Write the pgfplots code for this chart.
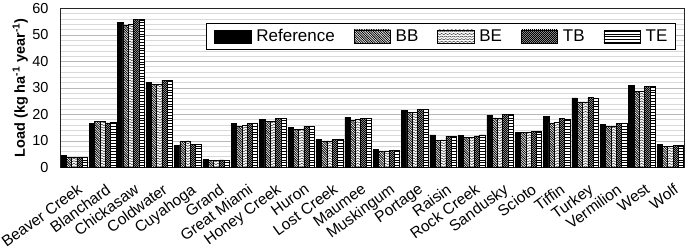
\documentclass[border=0pt]{standalone}
\usepackage{pgfplots}
\pgfplotsset{compat=1.18}
\usepackage{pgfplotstable}
\usetikzlibrary{patterns}
\usepackage{fontspec}
\setmainfont{Liberation Sans}

\pgfdeclarepatternformonly{bbpat}{\pgfqpoint{-1pt}{-1pt}}{\pgfqpoint{4pt}{4pt}}{\pgfqpoint{2.4pt}{2.4pt}}{
  \pgfsetlinewidth{0.75pt}
  \pgfpathmoveto{\pgfqpoint{0pt}{2.4pt}}
  \pgfpathlineto{\pgfqpoint{2.5pt}{-0.1pt}}
  \pgfusepath{stroke}}
\pgfdeclarepatternformonly{bepat}{\pgfqpoint{-1pt}{-1pt}}{\pgfqpoint{5pt}{4pt}}{\pgfqpoint{4pt}{2.6pt}}{
  \pgfsetlinewidth{0.5pt}
  \pgfpathmoveto{\pgfqpoint{0pt}{0.3pt}}
  \pgfpathlineto{\pgfqpoint{2pt}{1.5pt}}
  \pgfpathlineto{\pgfqpoint{4pt}{0.3pt}}
  \pgfusepath{stroke}}
\pgfdeclarepatternformonly{tbpat}{\pgfqpoint{0pt}{0pt}}{\pgfqpoint{2pt}{2pt}}{\pgfqpoint{2pt}{2pt}}{
  \pgfpathrectangle{\pgfqpoint{0pt}{0pt}}{\pgfqpoint{1pt}{1pt}}
  \pgfpathrectangle{\pgfqpoint{1pt}{1pt}}{\pgfqpoint{1pt}{1pt}}
  \pgfusepath{fill}}
\pgfdeclarepatternformonly{tepat}{\pgfqpoint{-1pt}{-1pt}}{\pgfqpoint{4pt}{4pt}}{\pgfqpoint{3pt}{2.8pt}}{
  \pgfsetlinewidth{0.6pt}
  \pgfpathmoveto{\pgfqpoint{-0.1pt}{1.4pt}}
  \pgfpathlineto{\pgfqpoint{3.1pt}{1.4pt}}
  \pgfusepath{stroke}}

\pgfplotsset{barleg/.style={legend image code/.code={\draw[##1] (0pt,-6.6pt) rectangle (36.5pt,6.6pt);}}}

\pgfplotstableread{
x Ref BB BE TB TE
0 4.5 3.8 3.8 3.8 3.8
1 16.5 17.5 17.5 16.8 17.0
2 54.8 53.8 54.0 55.8 56.0
3 32.0 31.3 31.3 32.8 33.0
4 8.3 9.9 10.0 8.6 8.6
5 3.0 2.5 2.5 2.8 2.8
6 16.5 15.6 15.8 16.7 16.7
7 18.1 17.4 17.4 18.4 18.4
8 15.0 14.3 14.3 15.6 15.5
9 10.5 10.0 10.0 10.6 10.6
10 18.9 17.8 18.0 18.6 18.6
11 6.7 6.2 6.2 6.3 6.4
12 21.5 20.8 20.9 21.8 21.8
13 12.3 10.3 10.4 11.7 11.7
14 12.0 11.2 11.2 11.9 12.3
15 19.7 18.7 18.7 19.9 19.9
16 13.3 13.3 13.4 13.6 13.6
17 19.2 16.8 17.0 18.4 18.1
18 26.2 24.7 24.7 26.4 26.2
19 16.3 15.6 15.6 16.6 16.8
20 30.9 28.8 28.8 30.7 30.6
21 8.7 7.9 7.9 8.3 8.5
}\loadtable

\begin{document}
\begin{tikzpicture}
\begin{axis}[
  scale only axis, width=625pt, height=159pt,
  ybar=0pt, bar width=5.3pt,
  xmin=-0.5, xmax=21.5, ymin=0, ymax=60,
  xtick=data,
  xticklabels={Beaver Creek,Blanchard,Chickasaw,Coldwater,Cuyahoga,Grand,Great Miami,Honey Creek,Huron,Lost Creek,Maumee,Muskingum,Portage,Raisin,Rock Creek,Sandusky,Scioto,Tiffin,Turkey,Vermilion,West,Wolf},
  ytick={0,10,...,60}, minor y tick num=4,
  ymajorgrids, yminorgrids,
  major grid style={draw=black!28, line width=0.6pt},
  minor grid style={draw=black!15, line width=0.6pt},
  major tick length=0pt, minor tick length=0pt,
  axis line style={draw=black!85, line width=0.9pt},
  /pgf/number format/assume math mode=true,
  yticklabel style={font=\fontsize{14.5}{16}\selectfont, xshift=-8pt},
  xticklabel style={font=\fontsize{15.5}{17}\selectfont, xshift=2.5pt, yshift=-15.5pt, rotate=36, anchor=north east, inner sep=0pt},
  ylabel={\bfseries Load (kg ha\textsuperscript{-1} year\textsuperscript{-1})},
  ylabel style={font=\fontsize{14.5}{16}\selectfont, at={(axis description cs:-0.0635,0.5)}, anchor=center},
  legend columns=-1,
  legend style={at={(axis description cs:0.9856,0.9057)}, anchor=north east,
    draw=black, fill=white, font=\fontsize{17}{19}\selectfont,
    inner xsep=8pt, inner ysep=6pt, nodes={inner sep=0pt},
    /tikz/every odd column/.append style={column sep=5pt},
    /tikz/every even column/.append style={column sep=19pt}},
]
\addplot[draw=black, line width=0.5pt, fill=black, barleg]
  table[x=x, y=Ref] {\loadtable};
\addlegendentry{Reference}
\addplot[draw=black, line width=0.5pt, fill=white, postaction={pattern=bbpat}, barleg]
  table[x=x, y=BB] {\loadtable};
\addlegendentry{BB}
\addplot[draw=black, line width=0.5pt, fill=white, postaction={pattern=bepat, pattern color=black!80}, barleg]
  table[x=x, y=BE] {\loadtable};
\addlegendentry{BE}
\addplot[draw=black, line width=0.5pt, fill=black!40, postaction={pattern=tbpat}, barleg]
  table[x=x, y=TB] {\loadtable};
\addlegendentry{TB}
\addplot[draw=black, line width=0.5pt, fill=white, postaction={pattern=tepat}, barleg]
  table[x=x, y=TE] {\loadtable};
\addlegendentry{TE}
\end{axis}
\end{tikzpicture}
\end{document}
